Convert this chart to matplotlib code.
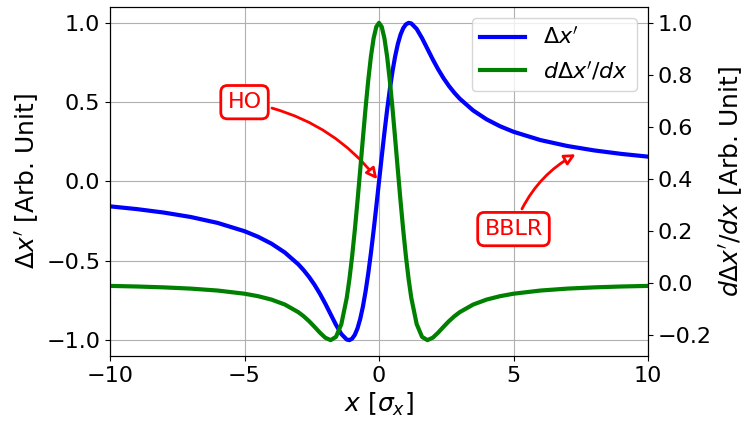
import numpy as np
import matplotlib
matplotlib.use("Agg")
import matplotlib.pyplot as plt

# valores
x = [-10, -9, -8, -7, -6, -5, -4.5, -4, -3.5, -3.0, -2.8, -2.6, -2.4, -2.2, -2.0,
     -1.8, -1.6, -1.4, -1.2, -1.1, -1.0, -0.9, -0.8, -0.7, -0.6, -0.5, -0.4, -0.3,
     -0.2, -0.1, 0,
     0.1, 0.2, 0.3, 0.4, 0.5, 0.6, 0.7, 0.8, 0.9, 1.0, 1.1, 1.2, 1.4, 1.6, 1.8,
     2.0, 2.2, 2.4, 2.6, 2.8, 3.0, 3.5, 4, 4.5, 5, 6, 7, 8, 9, 10]

kick = [-0.1567, -0.1741, -0.1959, -0.2238, -0.2611, -0.3134, -0.3482, -0.3917,
        -0.4477, -0.5222, -0.5594, -0.6020, -0.6508, -0.7066, -0.7691, -0.8364,
        -0.9036, -0.9616, -0.9964, -1.0, -0.9905, -0.9665, -0.9259, -0.8671,
        -0.7895, -0.6932, -0.5792, -0.4496, -0.3072, -0.1559, 0.0,
        0.1559, 0.3072, 0.4496, 0.5792, 0.6932, 0.7895, 0.8671, 0.9259, 0.9665,
        0.9905, 1.0, 0.9964, 0.9616, 0.9036, 0.8364, 0.7691, 0.7066, 0.6508,
        0.6020, 0.5594, 0.5222, 0.4477, 0.3917, 0.3482, 0.3134, 0.2611, 0.2238,
        0.1959, 0.1741, 0.1567]

dkick = [-0.0100, -0.0123, -0.0156, -0.0204, -0.0278, -0.0400, -0.0494, -0.0625,
         -0.0816, -0.1109, -0.1267, -0.1454, -0.1668, -0.1892, -0.2088, -0.2182,
         -0.2058, -0.1566, -0.0561, 0.0164, 0.1036, 0.2044, 0.3160, 0.4347,
         0.5556, 0.6728, 0.7802, 0.8715, 0.9413, 0.9851, 1.0,
         0.9851, 0.9413, 0.8715, 0.7802, 0.6728, 0.5556, 0.4347, 0.3160, 0.2044,
         0.1036, 0.0164, -0.0561, -0.1566, -0.2058, -0.2182, -0.2088, -0.1892,
         -0.1668, -0.1454, -0.1267, -0.1109, -0.0816, -0.0625, -0.0494, -0.0400,
         -0.0278, -0.0204, -0.0156, -0.0123, -0.0100]

xticks = [-10, -5, 0, 5, 10]

fs = 16

fig = plt.figure(figsize=(7.45, 4.24), dpi=100)
ax1 = fig.add_axes([0.1477, 0.1604, 0.7221, 0.8231])
ax2 = ax1.twinx()

l1, = ax1.plot(x, kick, color="blue", lw=3, label=r"$\Delta x'$")
l2, = ax2.plot(x, dkick, color="green", lw=3, label=r"$d\Delta x'/dx$")

ax1.set_xlim(-10, 10)
ax1.set_xticks(xticks)
ax1.grid(True)
ax1.set_xlabel(r"$x$ [$\sigma_x$]", fontsize=18)
ax1.set_ylabel(r"$\Delta x'$ [Arb. Unit]", fontsize=18)
ax2.set_ylabel(r"$d\Delta x'/dx$ [Arb. Unit]", fontsize=18)
ax1.tick_params(labelsize=fs)
ax2.tick_params(labelsize=fs)

ax1.legend(handles=[l1, l2], loc="upper right", fontsize=fs)

caja = dict(boxstyle="round", fc="white", ec="red", lw=2)
flecha = dict(arrowstyle="-|>", fc="white", ec="red", lw=2,
              connectionstyle="arc3,rad=-0.2")
ax1.annotate("HO", xy=(0, 0), xytext=(-5, 0.5), color="red", fontsize=fs,
             ha="center", va="center", bbox=caja, arrowprops=flecha)
ax1.annotate("BBLR", xy=(7.4, 0.18), xytext=(5, -0.3), color="red", fontsize=fs,
             ha="center", va="center", bbox=caja, arrowprops=flecha)

fig.savefig("out.png", dpi=100)
